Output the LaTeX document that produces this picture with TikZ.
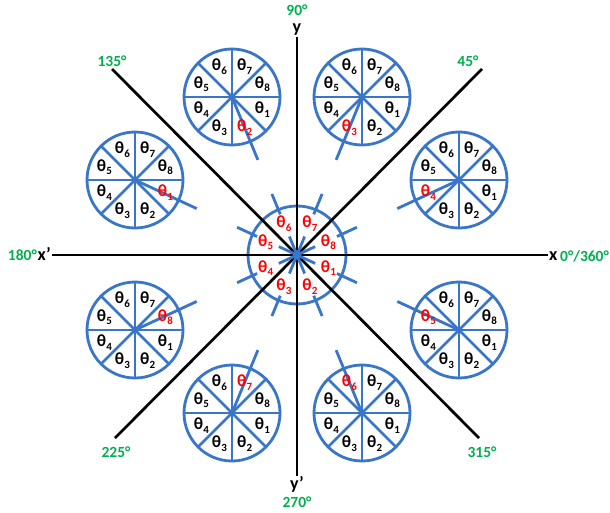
\documentclass[tikz,border=0pt]{standalone}
\usepackage{fontspec}
\setmainfont{Carlito}
\usetikzlibrary{calc}
\definecolor{wblue}{RGB}{58,118,200}
\definecolor{wgreen}{RGB}{0,176,80}
\definecolor{wred}{RGB}{255,0,0}
\newcommand\thk[1]{θ\kern0.2pt\raisebox{-3.5pt}{\fontsize{11}{11}\selectfont #1}}
\tikzset{
  wline/.style={draw=wblue,line width=2.8pt},
  axline/.style={draw=black,line width=2.7pt},
  lab/.style={inner sep=0pt,font=\fontsize{17}{17}\selectfont\bfseries},
  axl/.style={inner sep=0pt,font=\fontsize{18}{18}\selectfont\bfseries},
  gl/.style={inner sep=0pt,text=wgreen,font=\fontsize{15.5}{15.5}\selectfont\bfseries},
}
\newcommand\wheel[2]{%
  \draw[wline] (#1) circle (48pt);
  \foreach \a in {0,45,90,135} \draw[wline] ($(#1)+(\a:48)$) -- ($(#1)+(\a+180:48)$);
  \foreach \k in {1,...,8} {%
    \ifnum\k=#2 \def\col{wred}\else\def\col{black}\fi
    \node[lab,text=\col] (#1-\k) at ($(#1)+(45*\k-22.5:33)$) {\thk{\k}};}
}
\begin{document}
\begin{tikzpicture}[x=1pt,y=-1pt]
\useasboundingbox[fill=white] (0,0) rectangle (610,512);
\coordinate (O) at (297,255);
\coordinate (A) at (135,180);
\coordinate (B) at (232,97);
\coordinate (C) at (362,97);
\coordinate (D) at (459,180);
\coordinate (E) at (459,330);
\coordinate (F) at (362,413);
\coordinate (G) at (232,413);
\coordinate (H) at (135,330);
% axes end points
\coordinate (xl) at (52,255);
\coordinate (xr) at (548,255);
\coordinate (yt) at (297,37);
\coordinate (yb) at (297,476);
\coordinate (d1) at (112,69);
\coordinate (d2) at (482,69);
\coordinate (d3) at (115,438);
\coordinate (d4) at (479,438);
% central circle
\draw[wline] (O) circle (49pt);
% axes
\draw[axline] (xl) -- (xr);
\draw[axline] (yt) -- (yb);
\draw[axline] (d1) -- (d4);
\draw[axline] (d2) -- (d3);
% spokes
\foreach \c in {A,B,C,D,E,F,G,H} {
  \draw[wline] (\c) -- ($(\c)!68pt!(O)$);
  \draw[wline] (O) -- ($(O)!20pt!(\c)$);
  \draw[wline] ($(O)!44pt!(\c)$) -- ($(O)!66pt!(\c)$);
}
% wheels
\wheel{A}{1}
\wheel{B}{2}
\wheel{C}{3}
\wheel{D}{4}
\wheel{E}{5}
\wheel{F}{6}
\wheel{G}{7}
\wheel{H}{8}
% central labels
\foreach \k in {1,...,8}
  \node[lab,text=wred] (O-\k) at ($(O)+(45*\k-22.5:34)$) {\thk{\k}};
% axis labels
\node[axl,anchor=base] (ly) at (297,32) {y};
\node[gl,anchor=base] (l90) at (297,15) {90°};
\node[axl,anchor=base] (lyp) at (297,489) {y’};
\node[gl,anchor=base] (l270) at (297,507) {270°};
\node[axl,anchor=base east] (lxp) at (51,260) {x’};
\node[gl,anchor=base east] (l180) at (37,260) {180°};
\node[axl,anchor=base west] (lx) at (549,260) {x};
\node[gl,anchor=base west] (l0) at (560,261) {0°/360°};
\node[gl,anchor=base] (l135) at (112,66) {135°};
\node[gl,anchor=base] (l45) at (468,66) {45°};
\node[gl,anchor=base] (l225) at (116,457) {225°};
\node[gl,anchor=base] (l315) at (482,457) {315°};
\end{tikzpicture}
\end{document}
